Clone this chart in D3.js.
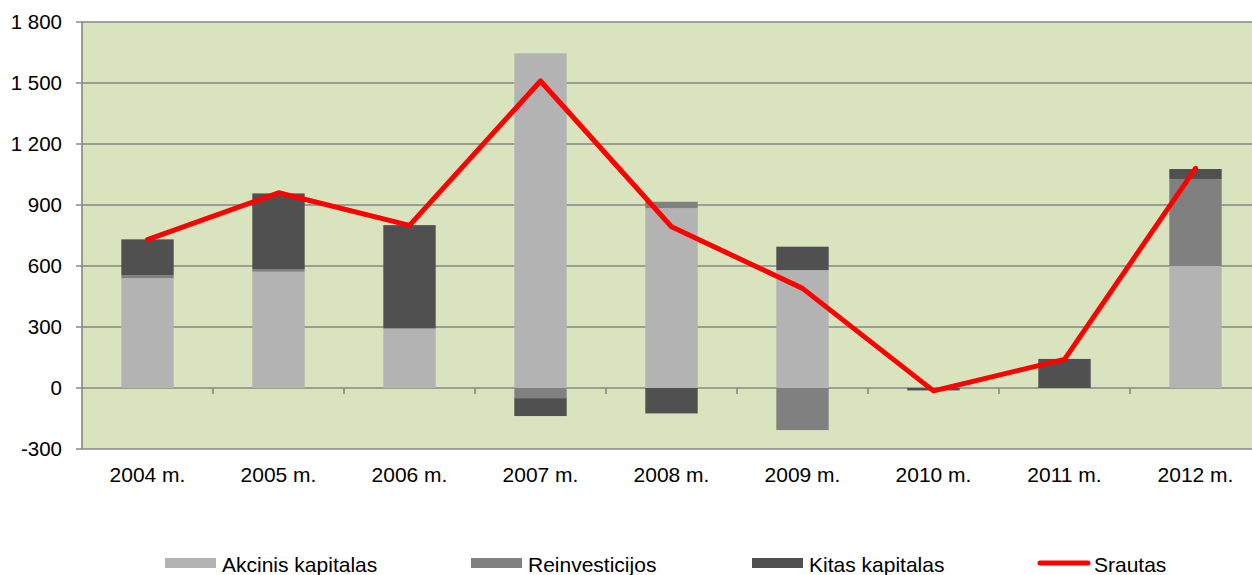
<!DOCTYPE html>
<html><head><meta charset="utf-8">
<script src="https://cdn.jsdelivr.net/npm/d3@7"></script>
<style>
html,body{margin:0;padding:0;background:#fff;overflow:hidden;}
text{font-family:"Liberation Sans",Arial,sans-serif;fill:#000;}
</style></head>
<body>
<svg id="chart" width="1252" height="575"></svg>
<script>
const categories = ["2004 m.","2005 m.","2006 m.","2007 m.","2008 m.","2009 m.","2010 m.","2011 m.","2012 m."];
const akcinis = [540, 572, 293, 1646, 884, 580, 0, -4, 600];
const reinvesticijos = [15, 13, 0, -50, 32, -207, 0, 0, 428];
const kitas = [176, 372, 508, -88, -125, 115, -12, 143, 49];
const srautas = [730, 960, 800, 1510, 793, 490, -14, 141, 1080];
const yTicks = [-300, 0, 300, 600, 900, 1200, 1500, 1800];
const seriesNames = ["Akcinis kapitalas", "Reinvesticijos", "Kitas kapitalas"];
const lineName = "Srautas";

const colors = ["#b3b3b3", "#808080", "#505050"];
const svg = d3.select("#chart");
const L = 82, R = 1261, T = 22, B = 449;

const x = d3.scaleBand().domain(categories).range([L, R]).paddingInner(0.6).paddingOuter(0.3);
const y = d3.scaleLinear().domain([-300, 1800]).range([B, T]);

// background
svg.append("rect").attr("x", L).attr("y", T).attr("width", R - L).attr("height", B - T).attr("fill", "#d9e4bf");

// gridlines
svg.append("g").selectAll("line").data(yTicks).join("line")
  .attr("x1", L - 6).attr("x2", R).attr("y1", d => y(d)).attr("y2", d => y(d))
  .attr("stroke", "#878787").attr("stroke-width", 1.6);

// y labels
const fmt = d => d3.format(",")(Math.abs(d)).replace(/,/g, "\u00a0");
svg.append("g").selectAll("text").data(yTicks).join("text")
  .attr("x", 62).attr("y", d => y(d)).attr("dy", "0.36em").attr("text-anchor", "end")
  .attr("font-size", 20.5)
  .text(d => (d < 0 ? "-" : "") + fmt(d));

// stacked bars
const table = categories.map((c, i) => ({cat: c, a: akcinis[i], r: reinvesticijos[i], k: kitas[i]}));
const stack = d3.stack().keys(["a", "r", "k"]).offset(d3.stackOffsetDiverging);
const stacked = stack(table);
svg.append("g").selectAll("g").data(stacked).join("g")
  .attr("fill", (d, i) => colors[i])
  .selectAll("rect").data(d => d).join("rect")
  .attr("x", d => x(d.data.cat))
  .attr("width", x.bandwidth())
  .attr("y", d => y(Math.max(d[0], d[1])))
  .attr("height", d => Math.abs(y(d[0]) - y(d[1])));

// left axis line
svg.append("line").attr("x1", L).attr("x2", L).attr("y1", T).attr("y2", B)
  .attr("stroke", "#878787").attr("stroke-width", 1.6);

// x axis at zero with ticks
const step = x.step();
const boundaries = d3.range(1, categories.length).map(i => L + i * step);
svg.append("g").selectAll("line").data(boundaries).join("line")
  .attr("x1", d => d).attr("x2", d => d).attr("y1", y(0)).attr("y2", y(0) + 6)
  .attr("stroke", "#878787").attr("stroke-width", 1.6);

// x labels
svg.append("g").selectAll("text").data(categories).join("text")
  .attr("x", d => x(d) + x.bandwidth() / 2).attr("y", 482).attr("text-anchor", "middle")
  .attr("font-size", 21).text(d => d);

// line
const line = d3.line().x((d, i) => x(categories[i]) + x.bandwidth() / 2).y(d => y(d));
svg.append("path").datum(srautas).attr("d", line)
  .attr("fill", "none").attr("stroke", "#ff0000").attr("stroke-width", 5)
  .attr("stroke-linejoin", "round").attr("stroke-linecap", "round");

// legend
const legendX = [165, 471, 752, 1038];
const lg = svg.append("g");
seriesNames.forEach((n, i) => {
  lg.append("rect").attr("x", legendX[i]).attr("y", 558).attr("width", 51).attr("height", 10).attr("fill", colors[i]);
  lg.append("text").attr("x", legendX[i] + 57).attr("y", 572).attr("font-size", 21).text(n);
});
lg.append("line").attr("x1", legendX[3] + 2).attr("x2", legendX[3] + 50).attr("y1", 563).attr("y2", 563)
  .attr("stroke", "#ff0000").attr("stroke-width", 5).attr("stroke-linecap", "round");
lg.append("text").attr("x", legendX[3] + 56).attr("y", 572).attr("font-size", 21).text(lineName);
</script>
</body></html>
